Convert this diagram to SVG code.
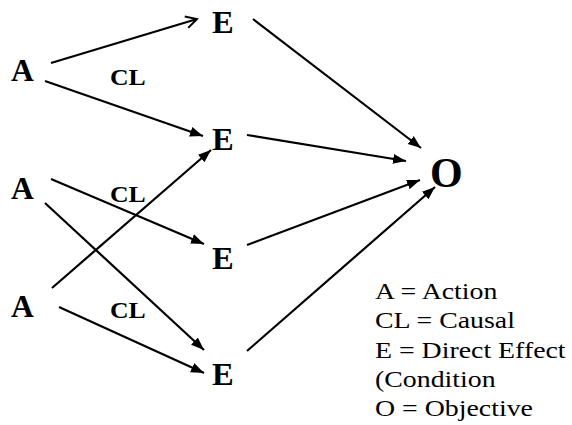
<svg xmlns="http://www.w3.org/2000/svg" width="572" height="425" viewBox="0 0 572 425">
<style>
.n{font-family:"Liberation Serif","Times New Roman",serif;font-weight:bold;font-size:31px;fill:#000}
.o{font-size:42px}
.cl{font-family:"Liberation Serif","Times New Roman",serif;font-weight:bold;font-size:23px;fill:#000}
.lg{font-family:"Liberation Serif","Times New Roman",serif;font-size:24px;fill:#000}
.c line{stroke:#000;stroke-width:2.2;fill:none}
</style>
<defs>
<marker id="f" markerUnits="userSpaceOnUse" markerWidth="14" markerHeight="12" refX="13" refY="6" orient="auto">
<path d="M0,1 L13,6 L0,11 Z" fill="#000"/>
</marker>
<marker id="v" markerUnits="userSpaceOnUse" markerWidth="14" markerHeight="14" refX="12" refY="7" orient="auto">
<path d="M1,1 L12,7 L1,13" fill="none" stroke="#000" stroke-width="2"/>
</marker>
</defs>
<g class="c" id="connectors">
<line x1="51" y1="63" x2="197" y2="19" marker-end="url(#v)"/>
<line x1="45" y1="81" x2="203" y2="136" marker-end="url(#f)"/>
<line x1="52" y1="288" x2="211" y2="150" marker-end="url(#f)"/>
<line x1="51" y1="179" x2="204" y2="244" marker-end="url(#f)"/>
<line x1="45" y1="203" x2="204" y2="350" marker-end="url(#f)"/>
<line x1="59" y1="307" x2="204" y2="373" marker-end="url(#f)"/>
<line x1="253" y1="19" x2="421" y2="148" marker-end="url(#f)"/>
<line x1="247" y1="135" x2="406" y2="161" marker-end="url(#f)"/>
<line x1="247" y1="245" x2="420" y2="180" marker-end="url(#f)"/>
<line x1="247" y1="351" x2="435" y2="187" marker-end="url(#f)"/>
</g>
<g id="A1"><text class="n" transform="translate(11,81) scale(1.02,1)">A</text></g>
<g id="A2"><text class="n" transform="translate(11,199) scale(1.02,1)">A</text></g>
<g id="A3"><text class="n" transform="translate(11,317) scale(1.02,1)">A</text></g>
<g id="E1"><text class="n" transform="translate(212,33) scale(1.05,1)">E</text></g>
<g id="E2"><text class="n" transform="translate(212,150) scale(1.05,1)">E</text></g>
<g id="E3"><text class="n" transform="translate(212,269) scale(1.05,1)">E</text></g>
<g id="E4"><text class="n" transform="translate(212,385) scale(1.05,1)">E</text></g>
<g id="O"><text class="n o" transform="translate(430,187)">O</text></g>
<g id="CL1"><text class="cl" transform="translate(110,85) scale(1.12,1)">CL</text></g>
<g id="CL2"><text class="cl" transform="translate(110,202) scale(1.12,1)">CL</text></g>
<g id="CL3"><text class="cl" transform="translate(110,318) scale(1.12,1)">CL</text></g>
<g id="legend">
<text class="lg" transform="translate(375,299) scale(1.16,1)">A = Action</text>
<text class="lg" transform="translate(375,328) scale(1.16,1)">CL = Causal</text>
<text class="lg" transform="translate(375,358) scale(1.16,1)">E = Direct Effect</text>
<text class="lg" transform="translate(375,387) scale(1.16,1)">(Condition</text>
<text class="lg" transform="translate(375,416) scale(1.16,1)">O = Objective</text>
</g>
</svg>
